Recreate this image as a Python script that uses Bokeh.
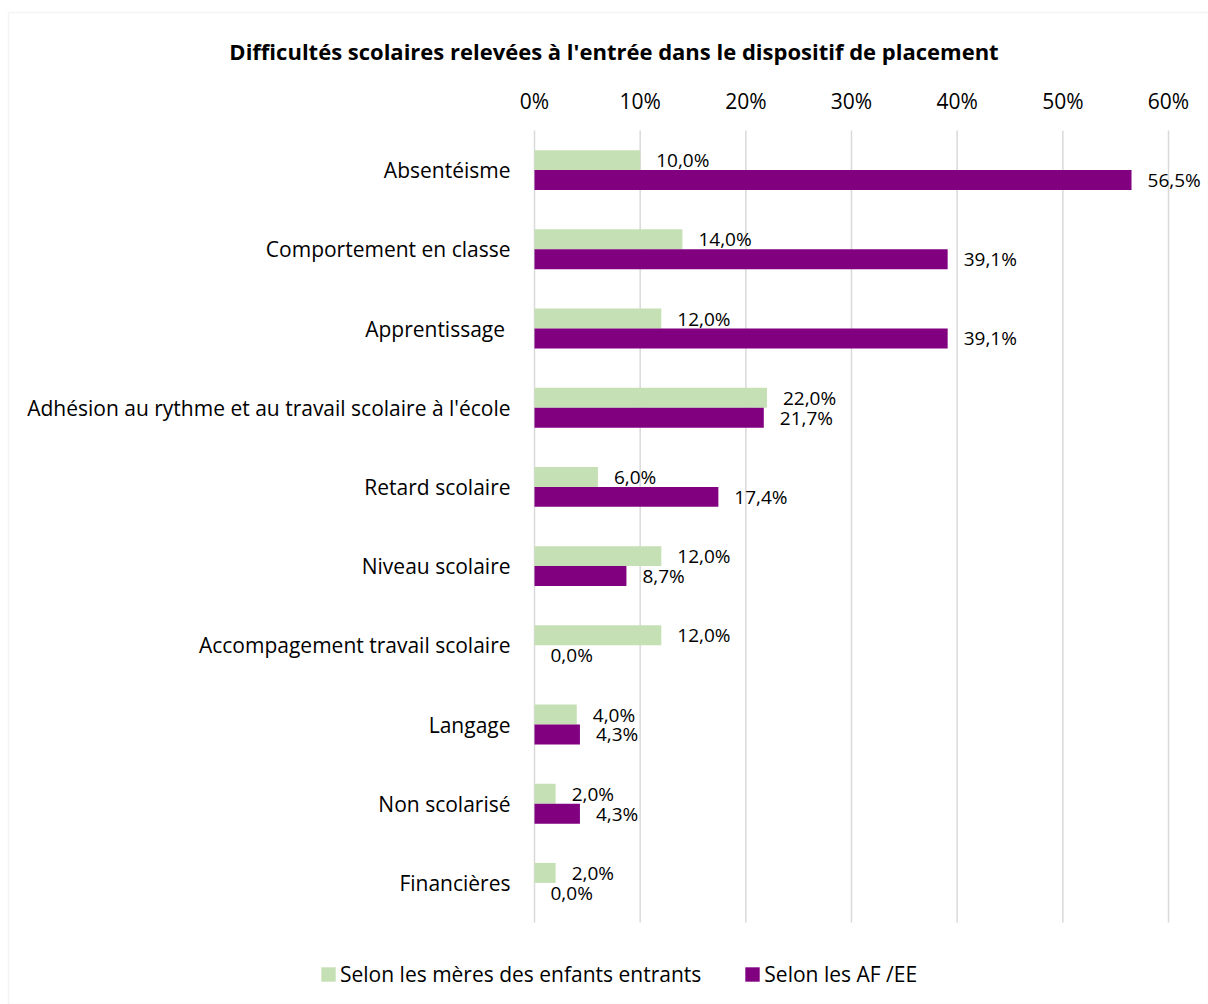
from bokeh.plotting import figure
from bokeh.models import (ColumnDataSource, Range1d, Legend, LegendItem, Label, BoxAnnotation)
from bokeh.core.properties import value
from bokeh.embed import file_html
from bokeh.resources import INLINE

categories = ["Absentéisme", "Comportement en classe", "Apprentissage ",
              "Adhésion au rythme et au travail scolaire à l'école", "Retard scolaire",
              "Niveau scolaire", "Accompagement travail scolaire", "Langage",
              "Non scolarisé", "Financières"]
meres = [10.0, 14.0, 12.0, 22.0, 6.0, 12.0, 12.0, 4.0, 2.0, 2.0]
af_ee = [56.5, 39.1, 39.1, 21.7, 17.4, 8.7, 0.0, 4.3, 4.3, 0.0]
series_names = ["Selon les mères des enfants entrants", "Selon les AF /EE"]
tick_values = [0, 10, 20, 30, 40, 50, 60]
tick_labels = ["0%", "10%", "20%", "30%", "40%", "50%", "60%"]
title_text = "Difficultés scolaires relevées à l'entrée dans le dispositif de placement"

FONT = "Open Sans"
GREEN = "#C5E0B4"
PURPLE = "#800080"
GRID = "#D9D9D9"

W, H = 1208, 1004
# frame covers the whole canvas; axis area: 0% at px 534, 60% at px 1168
px_per_pct = (1168 - 534) / 60.0
x_start = -534 / px_per_pct
x_end = 60 + (W - 1168) / px_per_pct
cat_px = 79.2
y_top = -0.5 - 130 / cat_px
y_bottom = y_top + H / cat_px

def fmt(v):
    return ("%.1f" % v).replace(".", ",") + "%"

n = len(categories)
idx = list(range(n))
bh = 0.252

src = ColumnDataSource(dict(
    cat=categories,
    yg=[i - bh / 2 for i in idx],
    yp=[i + bh / 2 for i in idx],
    m=meres, a=af_ee,
    ml=[fmt(v) for v in meres],
    al=[fmt(v) for v in af_ee],
    y=idx,
    zero=[0] * n,
))
tick_src = ColumnDataSource(dict(x=tick_values, lab=tick_labels,
                                 y0=[-0.5] * len(tick_values),
                                 y1=[n - 0.5] * len(tick_values)))

p = figure(width=W, height=H, output_backend="svg", toolbar_location=None,
           x_range=Range1d(x_start, x_end), y_range=Range1d(y_bottom, y_top),
           min_border=0)
p.axis.visible = False
p.grid.visible = False
p.outline_line_color = None

# chart border (screen units: x from left, y from bottom)
p.add_layout(BoxAnnotation(left=8, top=H - 12, left_units="screen", top_units="screen",
                           fill_alpha=0, line_color=GRID, line_width=1.5))

# gridlines
p.segment(x0="x", x1="x", y0="y0", y1="y1", source=tick_src, line_color=GRID, line_width=1.5)
# tick labels
p.text(x="x", y="y0", text="lab", source=tick_src, y_offset=-30,
       text_font=value(FONT), text_font_size="21px", text_align="center",
       text_baseline="middle", text_color="#000000")

r1 = p.hbar(y="yg", right="m", left=0, height=bh, source=src,
            fill_color=GREEN, line_color=None)
r2 = p.hbar(y="yp", right="a", left=0, height=bh, source=src,
            fill_color=PURPLE, line_color=None)

p.text(x="m", y="yg", text="ml", source=src, x_offset=16,
       text_font=value(FONT), text_font_size="19px", text_baseline="middle",
       text_align="left", text_color="#000000")
p.text(x="a", y="yp", text="al", source=src, x_offset=16,
       text_font=value(FONT), text_font_size="19px", text_baseline="middle",
       text_align="left", text_color="#000000")

# category labels
p.text(x="zero", y="y", text="cat", source=src, x_offset=-24,
       text_font=value(FONT), text_font_size="21px", text_baseline="middle",
       text_align="right", text_color="#000000")

p.add_layout(Label(x=613.5, y=H - 50, x_units="screen", y_units="screen",
                   text=title_text, text_font=FONT, text_font_size="22px",
                   text_font_style="bold", text_align="center", text_baseline="middle",
                   text_color="#000000"))

legend = Legend(items=[LegendItem(label=series_names[0], renderers=[r1]),
                       LegendItem(label=series_names[1], renderers=[r2])],
                orientation="horizontal", location=(319, 16),
                glyph_width=18, glyph_height=18, label_standoff=3, spacing=42,
                padding=0, margin=0, border_line_color=None, background_fill_alpha=0,
                label_text_font=FONT, label_text_font_size="21px", label_text_color="#000000")
p.add_layout(legend, "center")

open("out.html", "w").write(file_html(p, INLINE))
